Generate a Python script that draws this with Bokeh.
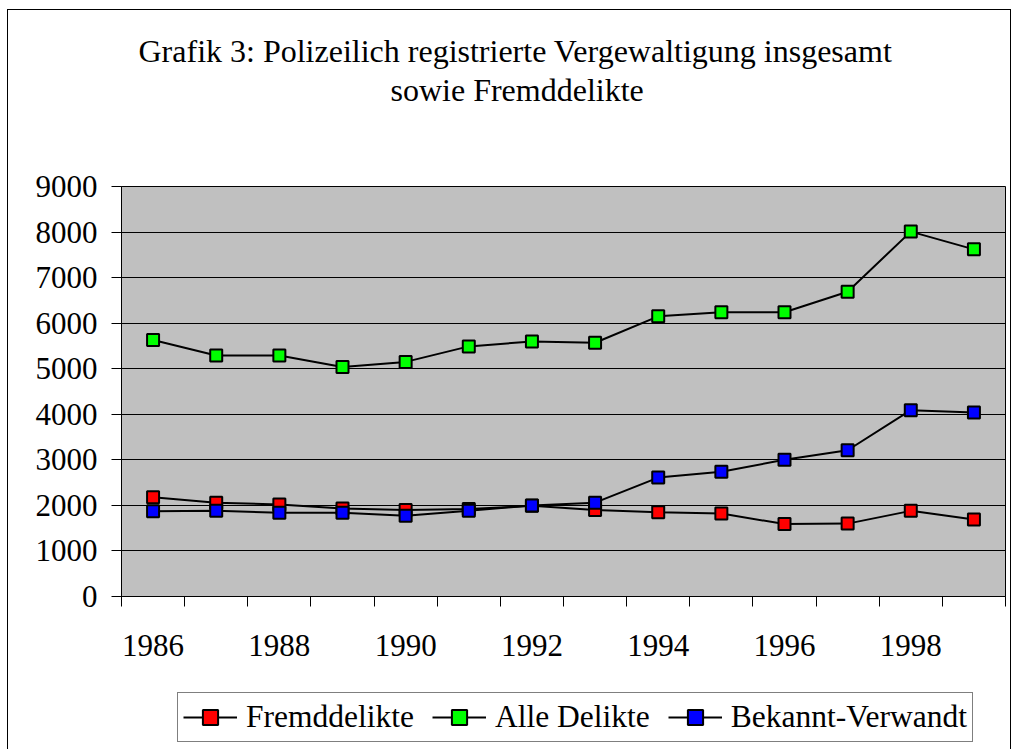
from bokeh.plotting import figure
from bokeh.layouts import column
from bokeh.models import Range1d, FixedTicker, Legend, LegendItem, Title
from bokeh.embed import file_html
from bokeh.resources import INLINE

years = [1986, 1987, 1988, 1989, 1990, 1991, 1992, 1993, 1994, 1995, 1996, 1997, 1998, 1999]
fremddelikte = [2180, 2060, 2020, 1930, 1900, 1920, 1990, 1900, 1850, 1820, 1590, 1600, 1880, 1690]
alle_delikte = [5630, 5290, 5290, 5040, 5150, 5490, 5600, 5570, 6150, 6240, 6240, 6690, 8010, 7620]
bekannt_verwandt = [1870, 1880, 1840, 1840, 1770, 1880, 2000, 2060, 2610, 2740, 3000, 3210, 4090, 4040]
y_ticks = [0, 1000, 2000, 3000, 4000, 5000, 6000, 7000, 8000, 9000]
title_lines = ["Grafik 3: Polizeilich registrierte Vergewaltigung insgesamt", "sowie Fremddelikte"]
series_names = ["Fremddelikte", "Alle Delikte", "Bekannt-Verwandt"]
series_colors = ["#FF0000", "#00FF00", "#0000FF"]

FONT = "Liberation Serif"
n = len(years)
xs = [i + 0.5 for i in range(n)]
all_series = [fremddelikte, alle_delikte, bekannt_verwandt]

p = figure(width=1002, height=670, output_backend="svg", toolbar_location=None,
           x_range=Range1d(0, n), y_range=Range1d(0, 9000),
           min_border_left=113, min_border_right=5, min_border_top=176, min_border_bottom=84,
           background_fill_color="#C0C0C0", border_fill_color="white",
           outline_line_color="black", outline_line_width=1)

# x axis: boundary ticks as minor ticks, labels at category centers (even years)
label_pos = [xs[i] for i, y in enumerate(years) if y % 2 == 0]
p.xaxis.ticker = FixedTicker(ticks=label_pos, minor_ticks=list(range(n + 1)))
p.xaxis.major_label_overrides = {xs[i]: str(y) for i, y in enumerate(years) if y % 2 == 0}
p.xaxis.major_tick_line_color = None
p.xaxis.major_tick_out = 0
p.xaxis.major_tick_in = 0
p.xaxis.minor_tick_out = 10
p.xaxis.minor_tick_in = 0
p.xaxis.minor_tick_line_color = "black"
p.xaxis.major_label_standoff = 28

p.yaxis.ticker = FixedTicker(ticks=y_ticks)
p.yaxis.major_tick_out = 10
p.yaxis.major_tick_in = 0
p.yaxis.minor_tick_line_color = None
p.yaxis.major_label_standoff = 14

for ax in (p.xaxis, p.yaxis):
    ax.axis_line_color = "black"
    ax.axis_line_width = 1
    ax.major_label_text_font = FONT
    ax.major_label_text_font_size = "31px"
    ax.major_label_text_color = "black"

p.xgrid.visible = False
p.ygrid.grid_line_color = "black"
p.ygrid.grid_line_width = 1

for vals, col in zip(all_series, series_colors):
    p.line(xs, vals, line_color="black", line_width=2)
    p.scatter(xs, vals, marker="square", size=12, fill_color=col,
              line_color="black", line_width=2)

# title: spacer nearest the frame, then the two title lines
p.add_layout(Title(text=" ", text_font_size="1px", standoff=73.5), "above")
p.add_layout(Title(text=title_lines[1], text_font=FONT, text_font_size="32px",
                   text_font_style="normal", text_color="black", align="left",
                   offset=269, standoff=3, vertical_align="bottom"), "above")
p.add_layout(Title(text=title_lines[0], text_font=FONT, text_font_size="32px",
                   text_font_style="normal", text_color="black", align="left",
                   offset=17, standoff=0, vertical_align="bottom"), "above")

# legend strip below the chart (series drawn out of its visible range, legend only)
q = figure(width=1002, height=69, output_backend="svg", toolbar_location=None,
           x_range=Range1d(0, 1), y_range=Range1d(0, 1),
           x_axis_type=None, y_axis_type=None,
           min_border_left=0, min_border_right=0, min_border_top=0, min_border_bottom=0,
           background_fill_color="white", border_fill_color="white",
           outline_line_color=None)
q.xgrid.visible = False
q.ygrid.visible = False
items = []
for name, vals, col in zip(series_names, all_series, series_colors):
    lr = q.line(xs, vals, line_color="black", line_width=2)
    sr = q.scatter(xs, vals, marker="square", size=12, fill_color=col,
                   line_color="black", line_width=2)
    items.append(LegendItem(label=name, renderers=[lr, sr]))

legend = Legend(items=items, orientation="horizontal", location=(56, 7),
                label_text_font=FONT, label_text_font_size="31.5px", label_text_color="black",
                glyph_width=54, glyph_height=38, label_standoff=9, spacing=18,
                padding=5, margin=0, border_line_color="black", border_line_width=1,
                background_fill_color="white", background_fill_alpha=1)
q.add_layout(legend)

layout = column(p, q, spacing=0)
layout.margin = (10, 0, 0, 8)
layout.styles = {"outline": "1px solid black"}

open("out.html", "w").write(file_html(layout, INLINE))
